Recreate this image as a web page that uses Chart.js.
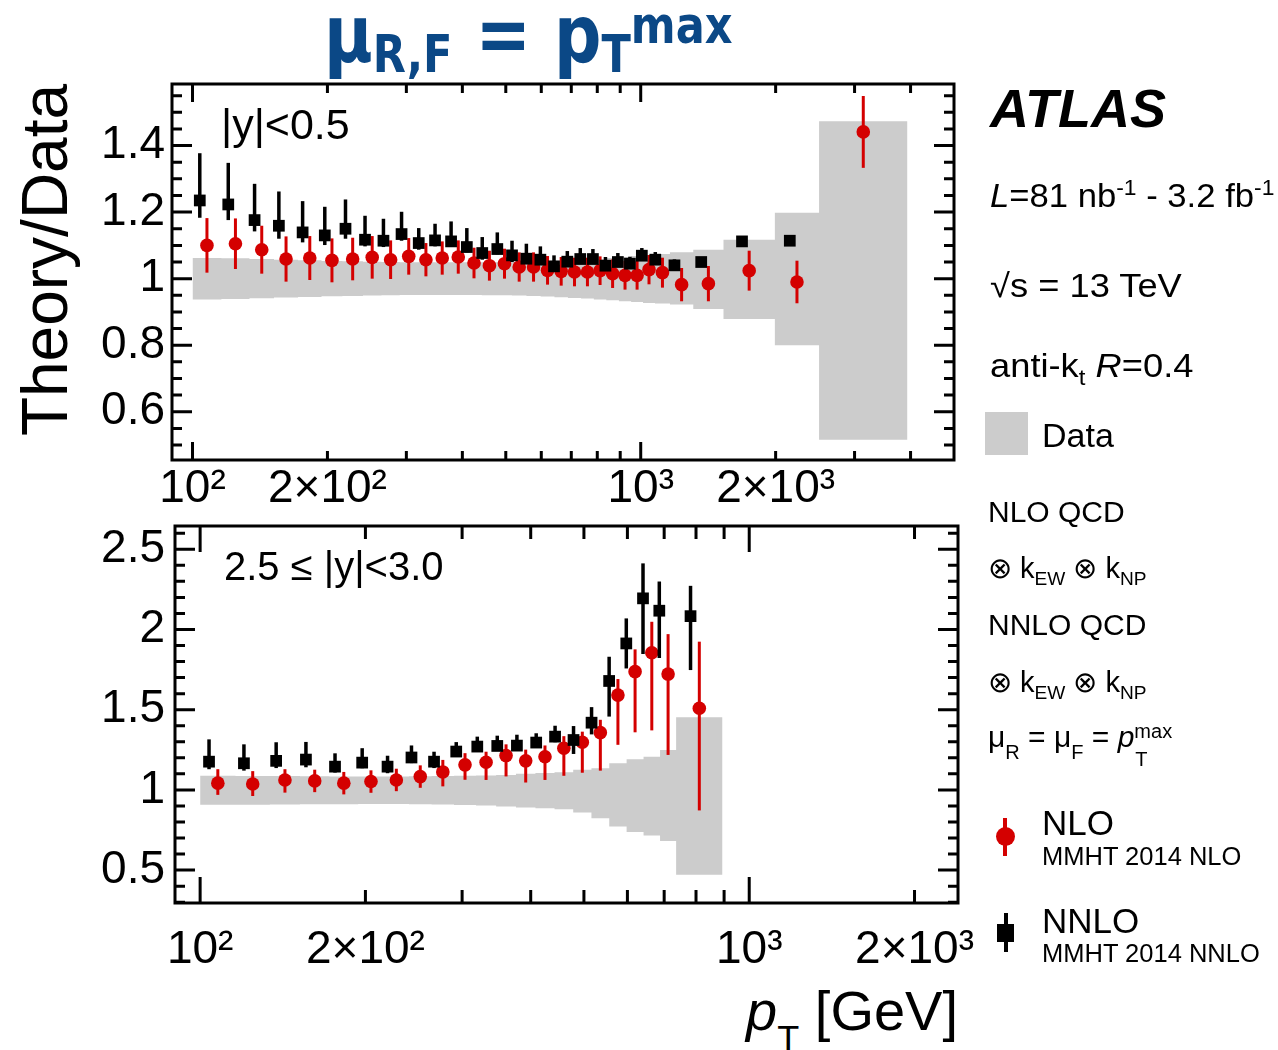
<!DOCTYPE html>
<html>
<head>
<meta charset="utf-8">
<script src="https://cdn.jsdelivr.net/npm/chart.js@4"></script>
<style>
  body { margin: 0; background: #fff; }
  #page { position: relative; width: 1278px; height: 1050px; overflow: hidden; background: #fff; }
  canvas { position: absolute; left: 0; }
  .t { position: absolute; line-height: 1; white-space: nowrap; color: #000;
       font-family: 'Liberation Sans', Arial, sans-serif; }
  .t sub, .t sup { font-size: 0.66em; line-height: 0; }
  .lo { position: relative; top: 12px; font-size: 20px; }
  .box { position: absolute; }
</style>
</head>
<body>
<div id="page">
  <canvas id="topChart" width="1000" height="520" style="top:0"></canvas>
  <canvas id="botChart" width="1000" height="470" style="top:500px"></canvas>

  <div class="t" style="left:324px; top:-4px; font-size:80px; line-height:78px; color:#0b4886; font-weight:bold; font-family:'Liberation Sans Narrow','DejaVu Sans Condensed',sans-serif; transform:scaleX(0.92); transform-origin:left top;">μ<span style="font-size:52px; position:relative; top:10px;">R,F</span> = p<span style="font-size:52px; position:relative; top:10px;">T</span><span style="font-size:52px; position:relative; top:-19px;">max</span></div>

  <div class="t" style="left:-160px; top:226px; width:410px; height:68px; font-size:64px; line-height:68px; text-align:center; transform:rotate(-90deg);">Theory/Data</div>

  <div class="t" style="left:221px; top:103px; font-size:43px;">|y|&lt;0.5</div>
  <div class="t" style="left:224px; top:546px; font-size:40px;">2.5 ≤ |y|&lt;3.0</div>

  <div class="t" style="right:320px; top:983px; font-size:56px;"><i>p</i><sub style="font-size:36px; position:relative; top:10px;">T</sub> [GeV]</div>

  <div class="t" style="left:990px; top:81px; font-size:54px; font-weight:bold; font-style:italic;">ATLAS</div>
  <div class="t" style="left:990px; top:179px; font-size:33px; transform:scaleX(1.05); transform-origin:left top;"><i>L</i>=81 nb<sup>-1</sup> - 3.2 fb<sup>-1</sup></div>
  <div class="t" style="left:990px; top:269px; font-size:33px; transform:scaleX(1.1); transform-origin:left top;">√s = 13 TeV</div>
  <div class="t" style="left:990px; top:349px; font-size:33px; transform:scaleX(1.1); transform-origin:left top;">anti-k<sub>t</sub> <i>R</i>=0.4</div>
  <div class="box" style="left:985px; top:412px; width:43px; height:43px; background:#cccccc;"></div>
  <div class="t" style="left:1042px; top:418px; font-size:34px;">Data</div>

  <div class="t" style="left:988px; top:497px; font-size:30px;">NLO QCD</div>
  <div class="t" style="left:988px; top:554px; font-size:29px;">⊗ k<sub>EW</sub> ⊗ k<sub>NP</sub></div>
  <div class="t" style="left:988px; top:610px; font-size:30px;">NNLO QCD</div>
  <div class="t" style="left:988px; top:668px; font-size:29px;">⊗ k<sub>EW</sub> ⊗ k<sub>NP</sub></div>
  <div class="t" style="left:988px; top:722px; font-size:30px;">μ<span class="lo">R</span> = μ<span class="lo">F</span> = <i>p</i><span style="position:relative;"><span style="position:absolute; left:1px; top:29px; font-size:20px; line-height:1;">T</span><span style="position:relative; top:-9px; font-size:20px;">max</span></span></div>

  <div class="box" style="left:1003px; top:818px; width:4px; height:38px; background:#d40000;"></div>
  <div class="box" style="left:996px; top:827px; width:19px; height:19px; border-radius:50%; background:#d40000;"></div>
  <div class="t" style="left:1042px; top:805px; font-size:35px;">NLO</div>
  <div class="t" style="left:1042px; top:844px; font-size:25.5px;">MMHT 2014 NLO</div>

  <div class="box" style="left:1004px; top:913px; width:4px; height:39px; background:#000;"></div>
  <div class="box" style="left:997px; top:924px; width:17px; height:18px; background:#000;"></div>
  <div class="t" style="left:1042px; top:903px; font-size:35px;">NNLO</div>
  <div class="t" style="left:1042px; top:941px; font-size:25.5px;">MMHT 2014 NNLO</div>
</div>

<script>
// |y| < 0.5
const binEdgesTop = [100,116,134,152,172,194,216,240,264,290,318,346,376,408,442,478,516,556,598,642,688,736,786,838,894,952,1012,1076,1162,1310,1530,1992,2500,3937]
const nloTop = [1.100,1.105,1.087,1.059,1.062,1.055,1.059,1.064,1.057,1.067,1.057,1.062,1.065,1.047,1.039,1.045,1.035,1.035,1.025,1.022,1.020,1.020,1.024,1.015,1.010,1.010,1.027,1.018,0.982,0.985,1.024,0.990,1.441]
const nloTopErr = [0.082,0.076,0.072,0.068,0.066,0.066,0.064,0.064,0.058,0.055,0.050,0.050,0.050,0.046,0.045,0.045,0.044,0.044,0.043,0.043,0.043,0.043,0.043,0.043,0.043,0.043,0.044,0.045,0.050,0.053,0.060,0.064,0.108]
const nnloTop = [1.235,1.223,1.176,1.159,1.139,1.130,1.150,1.117,1.114,1.134,1.107,1.115,1.112,1.095,1.077,1.089,1.070,1.060,1.057,1.037,1.051,1.059,1.059,1.039,1.050,1.045,1.069,1.057,1.040,1.050,1.112,1.114]
const nnloTopUp = [0.142,0.125,0.109,0.103,0.094,0.086,0.088,0.072,0.066,0.067,0.045,0.050,0.060,0.057,0.048,0.050,0.044,0.045,0.040,0.033,0.032,0.033,0.030,0.026,0.027,0.021,0.023,0.023,0.018,0.012,0.008,0.008]
const nnloTopDn = [0.052,0.047,0.034,0.039,0.030,0.029,0.030,0.020,0.019,0.020,0.020,0.018,0.016,0.016,0.020,0.016,0.020,0.016,0.016,0.016,0.012,0.012,0.012,0.010,0.010,0.010,0.010,0.008,0.006,0.006,0.005,0.005]
const dataTopUp = [1.062,1.061,1.059,1.057,1.055,1.053,1.052,1.051,1.050,1.049,1.049,1.049,1.049,1.049,1.049,1.050,1.050,1.051,1.052,1.053,1.055,1.057,1.059,1.062,1.065,1.068,1.071,1.074,1.079,1.087,1.117,1.198,1.473]
const dataTopDn = [0.937,0.939,0.941,0.943,0.945,0.947,0.948,0.949,0.950,0.951,0.951,0.951,0.951,0.951,0.950,0.950,0.949,0.948,0.946,0.944,0.942,0.940,0.937,0.935,0.932,0.930,0.927,0.925,0.922,0.909,0.879,0.800,0.516]

// 2.5 <= |y| < 3.0
const binEdgesBot = [100,116,134,152,172,194,216,240,264,290,318,346,376,408,442,478,516,556,598,642,688,736,894]
const nloBot = [1.042,1.037,1.062,1.056,1.042,1.052,1.062,1.083,1.112,1.156,1.172,1.214,1.181,1.207,1.260,1.297,1.357,1.591,1.737,1.855,1.722,1.509]
const nloBotUp = [0.087,0.080,0.067,0.070,0.070,0.070,0.070,0.070,0.075,0.073,0.066,0.070,0.070,0.070,0.075,0.066,0.080,0.100,0.139,0.193,0.249,0.415]
const nloBotDn = [0.073,0.075,0.079,0.070,0.070,0.070,0.070,0.070,0.090,0.093,0.110,0.130,0.135,0.145,0.172,0.190,0.237,0.310,0.378,0.484,0.504,0.637]
const nnloBot = [1.176,1.166,1.181,1.189,1.145,1.170,1.145,1.202,1.176,1.239,1.270,1.274,1.276,1.295,1.332,1.311,1.419,1.679,1.913,2.194,2.117,2.083]
const nnloBotUp = [0.139,0.118,0.116,0.110,0.083,0.090,0.068,0.075,0.062,0.059,0.062,0.064,0.068,0.058,0.068,0.087,0.097,0.151,0.156,0.218,0.182,0.189]
const nnloBotDn = [0.047,0.046,0.045,0.048,0.037,0.035,0.041,0.035,0.040,0.030,0.030,0.030,0.030,0.030,0.035,0.087,0.073,0.222,0.156,0.347,0.295,0.336]
const dataBotUp = [1.088,1.087,1.086,1.085,1.084,1.084,1.084,1.085,1.086,1.088,1.090,1.093,1.100,1.105,1.110,1.125,1.135,1.166,1.191,1.207,1.249,1.453]
const dataBotDn = [0.907,0.908,0.909,0.910,0.911,0.912,0.912,0.911,0.909,0.906,0.902,0.897,0.891,0.886,0.880,0.859,0.824,0.772,0.737,0.716,0.682,0.471]

// axis ticks
const xTickValues = [100, 200, 1000, 2000]
const xTickLabels = ['10²', '2×10²', '10³', '2×10³']
const yTicksTop = [0.6, 0.8, 1, 1.2, 1.4]
const yTicksBot = [0.5, 1, 1.5, 2, 2.5]

const RED = '#d40000'
const NNLO_SHIFT = Math.pow(10, -0.016)   // black markers drawn slightly left of bin centre
const FONT = "'Liberation Sans', Arial, sans-serif"

const binCentres = (edges) => edges.slice(0, -1).map((e, i) => Math.sqrt(e * edges[i + 1]))

const stepPoints = (edges, vals) => {
  const pts = vals.map((v, i) => ({x: edges[i], y: v}))
  pts.push({x: edges[edges.length - 1], y: vals[vals.length - 1]})
  return pts
}

const errorBars = {
  id: 'errorBars',
  beforeDatasetDraw(chart, args) {
    const ds = chart.data.datasets[args.index]
    if (!ds.errUp) return
    const {ctx, chartArea: a} = chart
    const y = chart.scales.y
    ctx.save()
    ctx.beginPath()
    ctx.rect(a.left, a.top, a.right - a.left, a.bottom - a.top)
    ctx.clip()
    ctx.strokeStyle = ds.errColor
    ctx.lineWidth = ds.errWidth
    args.meta.data.forEach((pt, i) => {
      const v = ds.data[i].y
      ctx.beginPath()
      ctx.moveTo(pt.x, y.getPixelForValue(v + ds.errUp[i]))
      ctx.lineTo(pt.x, y.getPixelForValue(v - ds.errDn[i]))
      ctx.stroke()
    })
    ctx.restore()
  }
}

const frame = {
  id: 'frame',
  afterDatasetsDraw(chart, args, o) {
    const {ctx, chartArea: a, scales: {x, y}} = chart
    ctx.save()
    ctx.strokeStyle = '#000'
    ctx.lineWidth = 3
    ctx.beginPath()
    const k0 = Math.ceil(y.min / o.yMinor - 1e-6), k1 = Math.floor(y.max / o.yMinor + 1e-6)
    for (let k = k0; k <= k1; k++) {
      const v = k * o.yMinor
      const r = v / o.yMajor
      const len = Math.abs(r - Math.round(r)) < 1e-6 ? o.yMajorLen : o.yMinorLen
      const py = y.getPixelForValue(v)
      ctx.moveTo(a.left, py); ctx.lineTo(a.left + len, py)
      ctx.moveTo(a.right, py); ctx.lineTo(a.right - len, py)
    }
    for (const dec of [10, 100, 1000]) {
      for (let m = 1; m <= 9; m++) {
        const v = m * dec
        if (v <= x.min || v >= x.max) continue
        const len = m === 1 ? o.xMajorLen : o.xMinorLen
        const px = x.getPixelForValue(v)
        ctx.moveTo(px, a.bottom); ctx.lineTo(px, a.bottom - len)
        ctx.moveTo(px, a.top); ctx.lineTo(px, a.top + len)
      }
    }
    ctx.stroke()
    ctx.strokeRect(a.left, a.top, a.right - a.left, a.bottom - a.top)
    ctx.restore()
  }
}

const makePanel = (id, p) => {
  const centres = binCentres(p.edges)
  new Chart(document.getElementById(id), {
    type: 'scatter',
    data: {
      datasets: [
        {
          label: 'NNLO',
          data: p.nnlo.map((v, i) => ({x: centres[i] * NNLO_SHIFT, y: v})),
          pointStyle: 'rect', pointRadius: 8.3, backgroundColor: '#000', borderWidth: 0,
          errUp: p.nnloUp, errDn: p.nnloDn, errColor: '#000', errWidth: 3.5
        },
        {
          label: 'NLO',
          data: p.nlo.map((v, i) => ({x: centres[i], y: v})),
          pointStyle: 'circle', pointRadius: 6.8, backgroundColor: RED, borderWidth: 0,
          errUp: p.nloUp, errDn: p.nloDn, errColor: RED, errWidth: 3
        },
        {
          type: 'line', label: 'Data up', data: stepPoints(p.edges, p.dataUp),
          stepped: true, showLine: true, pointRadius: 0, borderWidth: 0,
          borderColor: 'rgba(0,0,0,0)', backgroundColor: '#cccccc', fill: '+1'
        },
        {
          type: 'line', label: 'Data down', data: stepPoints(p.edges, p.dataDn),
          stepped: true, showLine: true, pointRadius: 0, borderWidth: 0,
          borderColor: 'rgba(0,0,0,0)', fill: false
        }
      ]
    },
    options: {
      responsive: false,
      animation: false,
      events: [],
      layout: {padding: p.padding},
      plugins: {
        legend: {display: false},
        tooltip: {enabled: false},
        frame: p.frame
      },
      scales: {
        x: {
          type: 'logarithmic', min: p.xMin, max: p.xMax,
          grid: {display: false, drawTicks: false}, border: {display: false},
          afterBuildTicks: (s) => { s.ticks = xTickValues.map(v => ({value: v})) },
          afterFit: (s) => { s.height = p.xHeight; s.paddingLeft = 0; s.paddingRight = 0 },
          ticks: {
            autoSkip: false, maxRotation: 0, minRotation: 0, padding: p.xPad, color: '#000',
            font: {family: FONT, size: 46},
            callback: (v) => xTickLabels[xTickValues.indexOf(v)]
          }
        },
        y: {
          type: 'linear', min: p.yMin, max: p.yMax,
          grid: {display: false, drawTicks: false}, border: {display: false},
          afterBuildTicks: (s) => { s.ticks = p.yTicks.map(v => ({value: v})) },
          afterFit: (s) => { s.width = p.yWidth; s.paddingTop = 0; s.paddingBottom = 0 },
          ticks: {
            padding: p.yPad, color: '#000',
            font: {family: FONT, size: 46},
            callback: (v) => String(v)
          }
        }
      }
    },
    plugins: [errorBars, frame]
  })
}

makePanel('topChart', {
  edges: binEdgesTop, nlo: nloTop, nloUp: nloTopErr, nloDn: nloTopErr,
  nnlo: nnloTop, nnloUp: nnloTopUp, nnloDn: nnloTopDn,
  dataUp: dataTopUp, dataDn: dataTopDn, yTicks: yTicksTop,
  xMin: 90, xMax: 5000, yMin: 0.455, yMax: 1.585,
  padding: {left: 0, top: 84, right: 46, bottom: 0},
  xHeight: 60, yWidth: 172, xPad: 2, yPad: 7,
  frame: {yMajor: 0.2, yMinor: 0.05, yMajorLen: 20, yMinorLen: 10, xMajorLen: 18, xMinorLen: 9}
})

makePanel('botChart', {
  edges: binEdgesBot, nlo: nloBot, nloUp: nloBotUp, nloDn: nloBotDn,
  nnlo: nnloBot, nnloUp: nnloBotUp, nnloDn: nnloBotDn,
  dataUp: dataBotUp, dataDn: dataBotDn, yTicks: yTicksBot,
  xMin: 90, xMax: 2400, yMin: 0.295, yMax: 2.645,
  padding: {left: 0, top: 26, right: 42, bottom: 0},
  xHeight: 67, yWidth: 175, xPad: 20, yPad: 10,
  frame: {yMajor: 0.5, yMinor: 0.1, yMajorLen: 20, yMinorLen: 10, xMajorLen: 26, xMinorLen: 13}
})
</script>
</body>
</html>
